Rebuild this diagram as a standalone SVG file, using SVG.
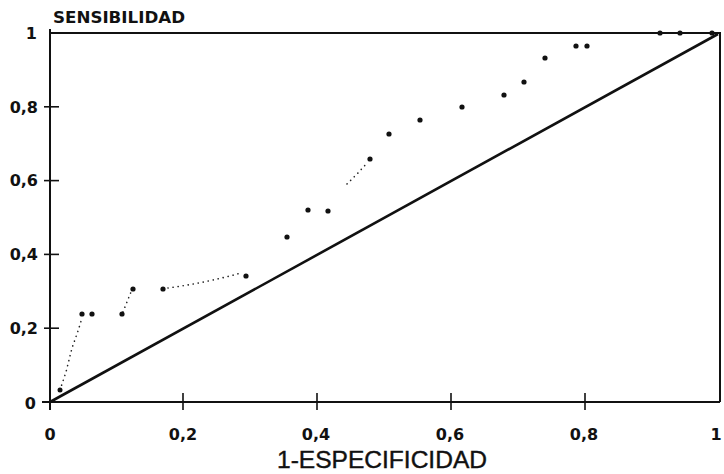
<svg xmlns="http://www.w3.org/2000/svg" width="724" height="474" viewBox="0 0 724 474">
<style>
.frame{fill:none;stroke:#111;stroke-width:2}
.tick{stroke:#111;stroke-width:1.6}
.diag{stroke:#111;stroke-width:2.6;fill:none}
.dotted{fill:none;stroke:#222;stroke-width:1.6;stroke-dasharray:0.1 5;stroke-linecap:round}
.pt{fill:#111}
.lab{font-family:"DejaVu Sans","Liberation Sans",sans-serif;font-weight:bold;font-size:16px;fill:#111}
.title{font-family:"Liberation Sans",Arial,sans-serif;font-size:23px;fill:#111;stroke:#111;stroke-width:0.4}
</style>
<rect width="724" height="474" fill="#fff"/>
<g id="axes">
<path class="frame" d="M50,33 H720 V402 M50,29 V410 M42,402 H720"/>
<g class="tick">
<line x1="44" y1="106.8" x2="59" y2="106.8"/>
<line x1="44" y1="180.6" x2="59" y2="180.6"/>
<line x1="44" y1="254.4" x2="59" y2="254.4"/>
<line x1="44" y1="328.2" x2="59" y2="328.2"/>
<line x1="183" y1="393" x2="183" y2="410"/>
<line x1="317" y1="393" x2="317" y2="410"/>
<line x1="451" y1="393" x2="451" y2="410"/>
<line x1="585" y1="393" x2="585" y2="410"/>
</g>
</g>
<g id="y-labels" class="lab" text-anchor="end">
<text x="37" y="39">1</text>
<text x="38" y="113">0,8</text>
<text x="38" y="186">0,6</text>
<text x="38" y="260">0,4</text>
<text x="38" y="334">0,2</text>
<text x="36" y="409">0</text>
</g>
<g id="x-labels" class="lab" text-anchor="middle">
<text x="50" y="440">0</text>
<text x="183" y="440">0,2</text>
<text x="316" y="440">0,4</text>
<text x="450" y="440">0,6</text>
<text x="584" y="440">0,8</text>
<text x="716" y="440">1</text>
</g>
<g id="axis-titles">
<text class="lab" x="53" y="23" textLength="132" lengthAdjust="spacingAndGlyphs" style="font-size:15px">SENSIBILIDAD</text>
<text class="title" x="277" y="468" textLength="210" lengthAdjust="spacingAndGlyphs">1-ESPECIFICIDAD</text>
</g>
<g id="connectors">
<line class="diag" x1="50" y1="402" x2="718" y2="34"/>
<path class="dotted" d="M60,390 L66,372 L72,348 L78,331 L82,318"/>
<path class="dotted" d="M123,312 L127,302 L131,292"/>
<path class="dotted" d="M168,288 Q205,283 241,273"/>
<path class="dotted" d="M347,184 L358,173 L367,163"/>
</g>
<g id="points" class="pt">
<circle cx="60" cy="390" r="2.5"/>
<circle cx="82" cy="314" r="2.6"/>
<circle cx="92" cy="314" r="2.6"/>
<circle cx="122" cy="314" r="2.6"/>
<circle cx="133" cy="289" r="2.6"/>
<circle cx="163" cy="289" r="2.6"/>
<circle cx="246" cy="276" r="2.6"/>
<circle cx="287" cy="237" r="2.6"/>
<circle cx="308" cy="210" r="2.6"/>
<circle cx="328" cy="211" r="2.6"/>
<circle cx="370" cy="159" r="2.6"/>
<circle cx="389" cy="134" r="2.6"/>
<circle cx="420" cy="120" r="2.6"/>
<circle cx="462" cy="107" r="2.6"/>
<circle cx="504" cy="95" r="2.6"/>
<circle cx="524" cy="82" r="2.6"/>
<circle cx="545" cy="58" r="2.6"/>
<circle cx="576" cy="46" r="2.6"/>
<circle cx="587" cy="46" r="2.6"/>
<circle cx="660" cy="33" r="2.6"/>
<circle cx="680" cy="33" r="2.6"/>
<circle cx="712" cy="33" r="2.6"/>
</g>
</svg>
